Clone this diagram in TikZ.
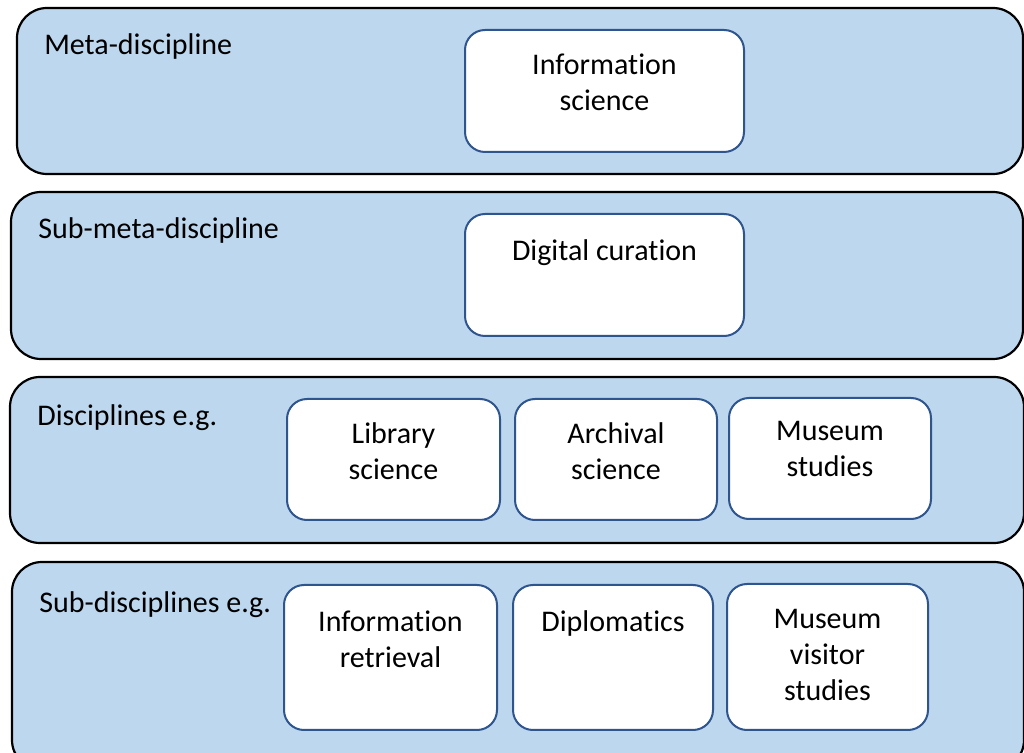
\documentclass[tikz,border=0pt]{standalone}
\usepackage{fontspec}
\setmainfont{Carlito}[Ligatures=NoCommon]
\usepackage{tikz}

\definecolor{bandblue}{RGB}{189,215,238}
\definecolor{boxedge}{RGB}{47,85,143}

\begin{document}
\begin{tikzpicture}[x=0.5pt,y=-0.5pt,font=\fontsize{15}{18}\selectfont]
    \tikzstyle{band} = [draw=black, line width=1.1pt, fill=bandblue, rounded corners=15pt, inner sep=0pt]
    \tikzstyle{lvl} = [anchor=north west, inner sep=0pt, xshift=14pt, yshift=-13pt]
    \tikzstyle{ibox} = [draw=boxedge, line width=1pt, fill=white, rounded corners=10pt, inner sep=0pt]
    \tikzstyle{itext} = [anchor=north, inner sep=0pt, align=center, yshift=-12pt]

    \useasboundingbox (0,0) rectangle (1024,753);
    \clip (0,0) rectangle (1024,753);

    % levels
    \node[band, minimum width=503pt, minimum height=83pt, label={[lvl]north west:Meta-discipline}] (meta) at (520,91) {};
    \node[band, minimum width=506pt, minimum height=83.5pt, label={[lvl]north west:Sub-meta-discipline}] (submeta) at (517,275.5) {};
    \node[band, minimum width=507pt, minimum height=83pt, label={[lvl, yshift=-1pt]north west:Disciplines e.g.}] (disc) at (517,460) {};
    \node[band, minimum width=506pt, minimum height=104pt, label={[lvl, yshift=-2pt]north west:Sub-disciplines e.g.}] (subdisc) at (518,666) {};

    % meta level boxes
    \node[ibox, minimum width=139.5pt, minimum height=61pt, label={[itext]north:Information\\science}] (infsci) at (604.5,91) {};
    \node[ibox, minimum width=139.5pt, minimum height=61pt, label={[itext, yshift=-1pt]north:Digital curation}] (digcur) at (604.5,275) {};

    % disciplines
    \node[ibox, minimum width=106.5pt, minimum height=60.5pt, label={[itext]north:Library\\science}] (lib) at (393.5,459.5) {};
    \node[ibox, minimum width=101pt, minimum height=60.5pt, label={[itext]north:Archival\\science}] (arch) at (616,459.5) {};
    \node[ibox, minimum width=101pt, minimum height=60.5pt, label={[itext]north:Museum\\studies}] (mus) at (830,458.5) {};

    % sub-disciplines
    \node[ibox, minimum width=106.5pt, minimum height=72.5pt, label={[itext, yshift=-1pt]north:Information\\retrieval}] (infret) at (390.5,657.5) {};
    \node[ibox, minimum width=100pt, minimum height=72.5pt, label={[itext, yshift=-1pt]north:Diplomatics}] (dipl) at (613,657.5) {};
    \node[ibox, minimum width=100.5pt, minimum height=73pt, label={[itext, yshift=-1pt]north:Museum\\visitor\\studies}] (musvis) at (827.5,657) {};
  \end{tikzpicture}
\end{document}
